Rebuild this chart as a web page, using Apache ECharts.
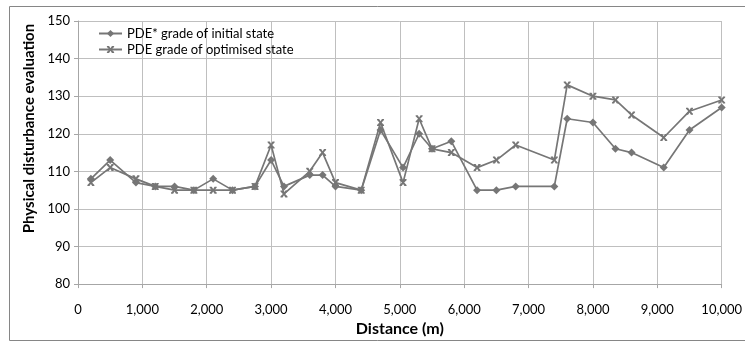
<!DOCTYPE html>
<html>
<head>
<meta charset="utf-8">
<script src="https://cdn.jsdelivr.net/npm/echarts@6/dist/echarts.min.js"></script>
<style>html,body{margin:0;padding:0;background:#fff}#c{width:745px;height:342px}</style>
</head>
<body>
<div id="c"></div>
<script>
var distances = [200, 500, 900, 1200, 1500, 1800, 2100, 2400, 2750, 3000, 3200, 3600, 3800, 4000, 4400, 4700, 5050, 5300, 5500, 5800, 6200, 6500, 6800, 7400, 7600, 8000, 8350, 8600, 9100, 9500, 10000];
var initialGrade = [108, 113, 107, 106, 106, 105, 108, 105, 106, 113, 106, 109, 109, 106, 105, 121, 111, 120, 116, 118, 105, 105, 106, 106, 124, 123, 116, 115, 111, 121, 127];
var optimisedGrade = [107, 111, 108, 106, 105, 105, 105, 105, 106, 117, 104, 110, 115, 107, 105, 123, 107, 124, 116, 115, 111, 113, 117, 113, 133, 130, 129, 125, 119, 126, 129];
var seriesNames = ['PDE* grade of initial state', 'PDE grade of optimised state'];
var xTitle = 'Distance (m)';
var yTitle = 'Physical disturbance evaluation';

function pairs(xs, ys) { return xs.map(function (x, i) { return [x, ys[i]]; }); }

var xMark = 'path://M0,0 L3,0 L5,3.2 L7,0 L10,0 L10,1.5 L6.6,5 L10,8.5 L10,10 L7,10 L5,6.8 L3,10 L0,10 L0,8.5 L3.4,5 L0,1.5 Z';
var font = 'Lato, "Liberation Sans", sans-serif';
var gray = '#767676';

var chart = echarts.init(document.getElementById('c'));
chart.setOption({
  animation: false,
  textStyle: { fontFamily: font },
  graphic: [{
    type: 'rect', silent: true, z: 100,
    shape: { x: 9.5, y: 6.5, width: 800, height: 334 },
    style: { fill: 'none', stroke: '#868686', lineWidth: 1 }
  }],
  grid: { left: 78, right: 20, top: 21, bottom: 51, containLabel: false },
  legend: {
    orient: 'vertical', left: 93, top: 21, itemGap: 1,
    itemWidth: 23, itemHeight: 9,
    textStyle: { fontSize: 13, color: '#000', fontFamily: font, lineHeight: 15 },
    data: seriesNames
  },
  xAxis: {
    type: 'value', min: 0, max: 10000, interval: 1000,
    name: xTitle, nameLocation: 'middle', nameGap: 33,
    nameTextStyle: { fontSize: 16, fontWeight: 'bold', color: '#000', fontFamily: font },
    axisLine: { show: true, lineStyle: { color: '#a6a6a6' } },
    axisTick: { show: true, length: 4, lineStyle: { color: '#a6a6a6' } },
    axisLabel: { fontSize: 13, color: '#000', margin: 19,
      formatter: function (v) { return v.toLocaleString('en-US'); } },
    splitLine: { show: true, lineStyle: { color: '#bfbfbf' } }
  },
  yAxis: {
    type: 'value', min: 80, max: 150, interval: 10,
    name: yTitle, nameLocation: 'middle', nameGap: 36, nameRotate: 90,
    nameTextStyle: { fontSize: 15, fontWeight: 'bold', color: '#000', fontFamily: font,
      padding: [0, 0, 0, 48] },
    axisLine: { show: true, lineStyle: { color: '#a6a6a6' } },
    axisTick: { show: true, length: 4, lineStyle: { color: '#a6a6a6' } },
    axisLabel: { fontSize: 13, color: '#000', margin: 8 },
    splitLine: { show: true, lineStyle: { color: '#bfbfbf' } }
  },
  series: [{
    name: seriesNames[0], type: 'line', data: pairs(distances, initialGrade),
    symbol: 'diamond', symbolSize: 8, showAllSymbol: true,
    lineStyle: { color: gray, width: 1.7 },
    itemStyle: { color: gray }
  }, {
    name: seriesNames[1], type: 'line', data: pairs(distances, optimisedGrade),
    symbol: xMark, symbolSize: 7, showAllSymbol: true,
    lineStyle: { color: gray, width: 1.7 },
    itemStyle: { color: gray }
  }]
});
</script>
</body>
</html>
